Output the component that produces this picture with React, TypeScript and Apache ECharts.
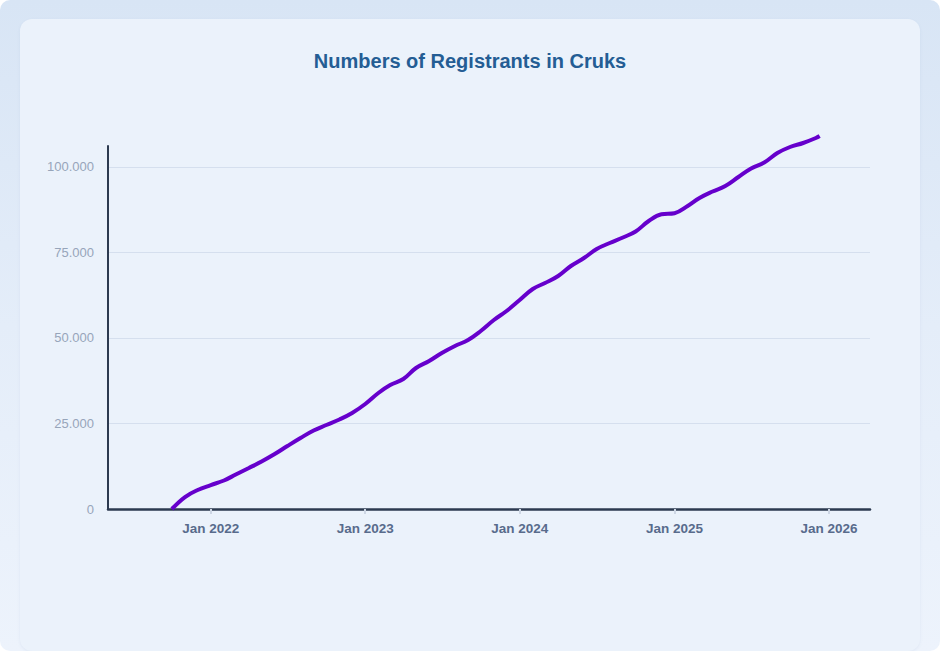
import React, { useEffect, useRef } from "react";
import * as echarts from "echarts";

const dates: string[] = [
  "2021-10-01", "2021-11-01", "2021-12-01",
  "2022-01-01", "2022-02-01", "2022-03-01", "2022-04-01", "2022-05-01", "2022-06-01",
  "2022-07-01", "2022-08-01", "2022-09-01", "2022-10-01", "2022-11-01", "2022-12-01",
  "2023-01-01", "2023-02-01", "2023-03-01", "2023-04-01", "2023-05-01", "2023-06-01",
  "2023-07-01", "2023-08-01", "2023-09-01", "2023-10-01", "2023-11-01", "2023-12-01",
  "2024-01-01", "2024-02-01", "2024-03-01", "2024-04-01", "2024-05-01", "2024-06-01",
  "2024-07-01", "2024-08-01", "2024-09-01", "2024-10-01", "2024-11-01", "2024-12-01",
  "2025-01-01", "2025-02-01", "2025-03-01", "2025-04-01", "2025-05-01", "2025-06-01",
  "2025-07-01", "2025-08-01", "2025-09-01", "2025-10-01", "2025-11-01", "2025-12-01",
  "2025-12-10",
];

const registrants: number[] = [
  0, 3500, 5560,
  7000, 8330, 10090, 12000, 13900, 16080,
  18420, 20760, 22950, 24560, 26170, 28070,
  30700, 33920, 36260, 38010, 41230, 43280,
  45610, 47660, 49420, 52050, 55260, 57900,
  61110, 64330, 66080, 68130, 71050, 73390,
  76020, 77780, 79390, 81140, 84200, 86200,
  86500, 88600, 90940, 92840, 94450, 97080,
  99560, 101320, 104090, 105850, 107020, 108480,
  109070,
];

const yTickValues: number[] = [0, 25000, 50000, 75000, 100000];
const titleText = "Numbers of Registrants in Cruks";

const fmtThousands = (v: number) =>
  String(Math.round(v)).replace(/\B(?=(\d{3})+(?!\d))/g, ".");

export default function App() {
  const ref = useRef<HTMLDivElement | null>(null);

  useEffect(() => {
    document.body.style.margin = "0";
    if (!ref.current) return;
    const chart = echarts.init(ref.current, undefined, { renderer: "svg" });
    const seriesData = dates.map((d, i) => [d, registrants[i]]);
    chart.setOption({
      animation: false,
      title: {
        text: titleText,
        left: "center",
        top: 27,
        textStyle: {
          color: "#245d94",
          fontSize: 20,
          fontWeight: "bold",
          fontFamily: "Liberation Sans, Arial, sans-serif",
        },
      },
      grid: { left: 88, right: 50, top: 127, bottom: 142, containLabel: false },
      xAxis: {
        type: "time",
        min: new Date(2021, 4, 3).getTime(),
        max: new Date(2026, 3, 8).getTime(),
        minInterval: 365 * 24 * 3600 * 1000,
        maxInterval: 366 * 24 * 3600 * 1000,
        axisLine: { show: true, lineStyle: { color: "#2c3a50", width: 2.5 } },
        axisTick: { show: true, length: 5, lineStyle: { color: "#cdd6e4", width: 2 } },
        splitLine: { show: false },
        axisLabel: {
          margin: 12,
          color: "#586b8c",
          fontSize: 13.5,
          fontWeight: "bold",
          fontFamily: "Liberation Sans, Arial, sans-serif",
          formatter: (value: number) => {
            const d = new Date(value);
            if (d.getMonth() === 0 && d.getDate() === 1) return "Jan " + d.getFullYear();
            return "";
          },
        },
      },
      yAxis: {
        type: "value",
        min: 0,
        max: 106140,
        interval: 25000,
        axisLine: { show: true, lineStyle: { color: "#2c3a50", width: 2 } },
        axisTick: { show: false },
        splitLine: {
          show: true,
          showMaxLine: false,
          lineStyle: { color: "#d5dfee", width: 1 },
        },
        axisLabel: {
          margin: 14,
          color: "#97a5ba",
          fontSize: 13,
          fontFamily: "Liberation Sans, Arial, sans-serif",
          showMaxLabel: false,
          formatter: (v: number) => (yTickValues.includes(v) ? fmtThousands(v) : ""),
        },
      },
      series: [
        {
          type: "line",
          data: seriesData,
          smooth: 0.4,
          showSymbol: false,
          clip: false,
          lineStyle: { color: "#6600cc", width: 4 },
          itemStyle: { color: "#6600cc" },
        },
      ],
    });
    return () => chart.dispose();
  }, []);

  return (
    <div
      style={{
        width: 940,
        height: 651,
        position: "relative",
        borderRadius: 10,
        overflow: "hidden",
        background: "linear-gradient(180deg, #d8e5f5 0%, #e4edf9 50%, #edf3fc 100%)",
      }}
    >
      <div
        style={{
          position: "absolute",
          left: 20,
          top: 19,
          width: 900,
          height: 632,
          borderRadius: 12,
          background: "#ebf2fb",
          boxShadow: "0 1px 3px rgba(120,150,190,0.12)",
        }}
      >
        <div ref={ref} style={{ width: 900, height: 632 }} />
      </div>
    </div>
  );
}
